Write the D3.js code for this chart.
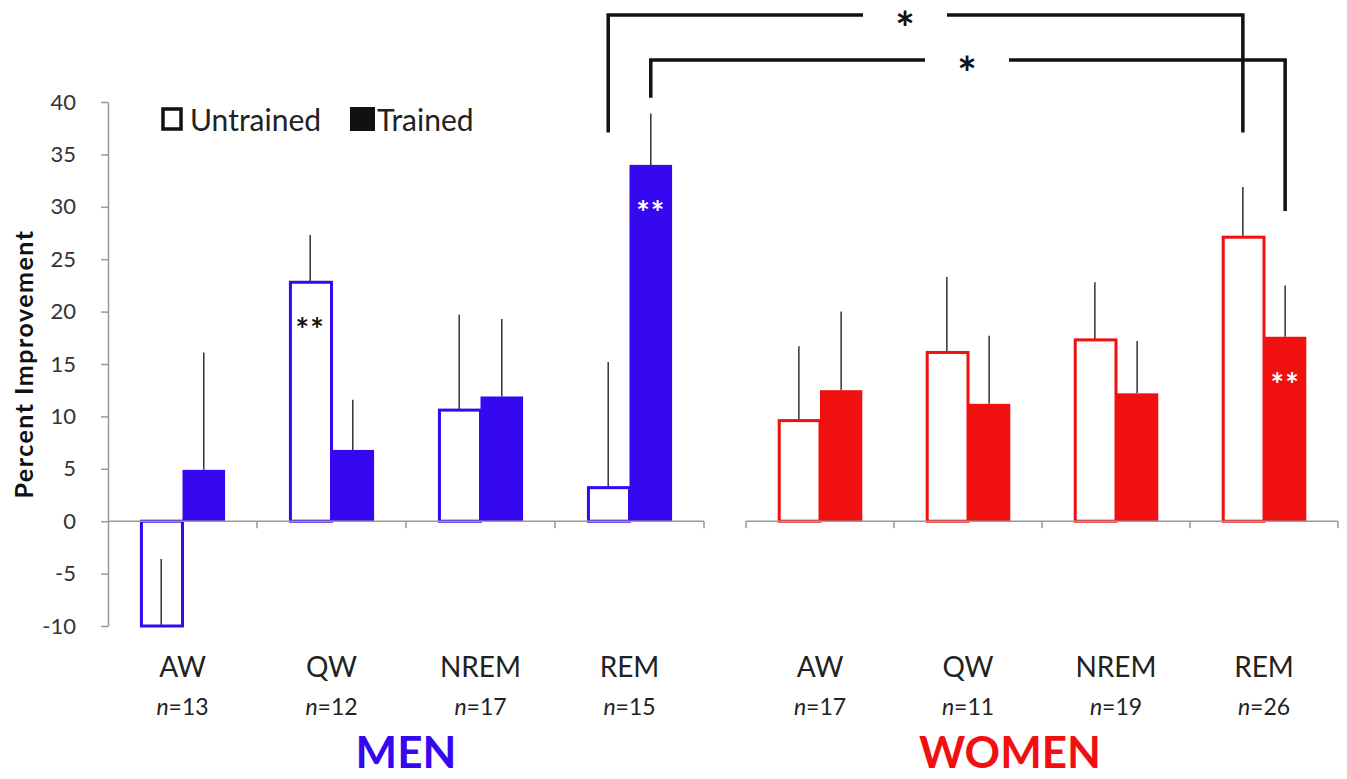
<!doctype html>
<html>
<head>
<meta charset="utf-8">
<title>Percent improvement by sleep state</title>
<script src="https://cdnjs.cloudflare.com/ajax/libs/d3/7.8.5/d3.min.js"></script>
<style>
  body { margin: 0; background: #fff; }
  text { font-family: Lato, 'Open Sans', sans-serif; }
  .axis path, .axis line { stroke: #999; stroke-width: 1.5; }
  .axis text { font-size: 22px; fill: #333; }
</style>
</head>
<body>
<div id="chart"></div>
<script>
var categories = ["AW", "QW", "NREM", "REM"];
var yTicks = [-10, -5, 0, 5, 10, 15, 20, 25, 30, 35, 40];

var menN = [13, 12, 17, 15];
var womenN = [17, 11, 19, 26];

// bar heights and the top of each (one-sided) error bar
var menUntrained = [-10, 22.8, 10.6, 3.2];
var menUntrainedErr = [-3.6, 27.3, 19.7, 15.2];
var menTrained = [4.9, 6.8, 11.9, 34.0];
var menTrainedErr = [16.1, 11.6, 19.3, 38.9];

var womenUntrained = [9.6, 16.1, 17.3, 27.1];
var womenUntrainedErr = [16.7, 23.3, 22.8, 31.9];
var womenTrained = [12.5, 11.2, 12.2, 17.6];
var womenTrainedErr = [20.0, 17.7, 17.2, 22.5];

// stars inside bars: [panel, category, group, color]
var barStars = [["men", "QW", "Untrained", "#111"], ["men", "REM", "Trained", "#fff"], ["women", "REM", "Trained", "#fff"]];

var width = 1347, height = 779;
var blue = "#3508f0", red = "#f01010";

var svg = d3.select("#chart").append("svg").attr("width", width).attr("height", height);

var y = d3.scaleLinear().domain([-10, 40]).range([626, 102]);

var panels = [
  { key: "men", label: "MEN", color: blue, range: [108, 704], labelX: 406, n: menN,
    u: menUntrained, ue: menUntrainedErr, t: menTrained, te: menTrainedErr },
  { key: "women", label: "WOMEN", color: red, range: [746, 1338], labelX: 1010, n: womenN,
    u: womenUntrained, ue: womenUntrainedErr, t: womenTrained, te: womenTrainedErr }
];

panels.forEach(function (p) {
  p.x0 = d3.scaleBand().domain(categories).range(p.range);
  p.x1 = d3.scaleBand().domain(["Untrained", "Trained"]).range([0, p.x0.bandwidth()]).paddingOuter(0.75);
  p.cx = function (c, g) { return p.x0(c) + p.x1(g) + p.x1.bandwidth() / 2; };
});

// y axis (men panel only)
svg.append("g").attr("class", "axis")
  .attr("transform", "translate(108,0)")
  .call(d3.axisLeft(y).tickValues(yTicks).tickFormat(function (d) { return String(d); })
    .tickSize(7).tickPadding(25).tickSizeOuter(0));

svg.append("text")
  .attr("transform", "translate(33,364) rotate(-90)")
  .attr("text-anchor", "middle")
  .style("font-size", "25px").style("font-weight", "bold").style("fill", "#111")
  .style("letter-spacing", "1.5px")
  .text("Percent Improvement");

panels.forEach(function (p) {
  var g = svg.append("g");
  var rows = categories.map(function (c, i) {
    return [
      { c: c, grp: "Untrained", v: p.u[i], e: p.ue[i] },
      { c: c, grp: "Trained", v: p.t[i], e: p.te[i] }
    ];
  }).flat();

  // error bars drawn first, so bars sit over them
  g.selectAll(".err").data(rows).join("line")
    .attr("x1", function (d) { return p.cx(d.c, d.grp); })
    .attr("x2", function (d) { return p.cx(d.c, d.grp); })
    .attr("y1", function (d) { return y(d.v); })
    .attr("y2", function (d) { return y(d.e); })
    .attr("stroke", "#333").attr("stroke-width", 1.5);

  g.selectAll(".bar").data(rows).join("rect")
    .attr("x", function (d) { return p.x0(d.c) + p.x1(d.grp) + (d.grp == "Untrained" ? 1.5 : 0); })
    .attr("y", function (d) { return Math.min(y(d.v), y(0)); })
    .attr("width", function (d) { return p.x1.bandwidth() - (d.grp == "Untrained" ? 1.5 : 0); })
    .attr("height", function (d) { return Math.abs(y(d.v) - y(0)); })
    .attr("fill", function (d) { return d.grp == "Trained" ? p.color : "#fff"; })
    .attr("fill-opacity", function (d) { return d.grp == "Trained" ? 1 : 0; })
    .attr("stroke", p.color)
    .attr("stroke-width", function (d) { return d.grp == "Trained" ? 0 : 3; });

  // x axis line with ticks at category boundaries
  var bounds = categories.map(function (c) { return p.x0(c); }).concat([p.range[1]]);
  var ax = g.append("g").attr("class", "axis");
  ax.append("line")
    .attr("x1", p.range[0]).attr("x2", p.range[1])
    .attr("y1", y(0)).attr("y2", y(0));
  ax.selectAll(".tk").data(p.key == "men" ? bounds.slice(1) : bounds).join("line")
    .attr("x1", function (d) { return d; }).attr("x2", function (d) { return d; })
    .attr("y1", y(0)).attr("y2", y(0) + 7);

  // category labels
  g.selectAll(".cat").data(categories).join("text")
    .attr("x", function (c) { return p.x0(c) + p.x0.bandwidth() / 2; })
    .attr("y", 677)
    .attr("text-anchor", "middle")
    .style("font-size", "28px").style("fill", "#222")
    .text(function (c) { return c; });

  var nt = g.selectAll(".n").data(categories).join("text")
    .attr("x", function (c) { return p.x0(c) + p.x0.bandwidth() / 2; })
    .attr("y", 715)
    .attr("text-anchor", "middle")
    .style("font-size", "23px").style("fill", "#222");
  nt.append("tspan").style("font-style", "italic").text("n");
  nt.append("tspan").text(function (c, i) { return "=" + p.n[i]; });

  g.append("text")
    .attr("x", p.labelX)
    .attr("y", 768)
    .attr("text-anchor", "middle")
    .style("font-size", "44px").style("font-weight", "bold").style("fill", p.color)
    .text(p.label);
});

// stars inside bars
barStars.forEach(function (s) {
  var p = panels.find(function (q) { return q.key == s[0]; });
  var i = categories.indexOf(s[1]);
  var v = s[2] == "Trained" ? p.t[i] : p.u[i];
  svg.append("text")
    .attr("x", p.cx(s[1], s[2]))
    .attr("y", y(v) + 60)
    .attr("text-anchor", "middle")
    .style("font-size", "32px").style("font-weight", "bold").style("fill", s[3])
    .style("letter-spacing", "1px")
    .text("**");
});

// legend
var legend = svg.append("g");
legend.append("rect").attr("x", 163).attr("y", 109).attr("width", 18).attr("height", 20)
  .attr("fill", "none").attr("stroke", "#111").attr("stroke-width", 3.5);
legend.append("text").attr("x", 190).attr("y", 131).style("font-size", "30px").style("fill", "#222").text("Untrained");
legend.append("rect").attr("x", 350).attr("y", 107).attr("width", 25).attr("height", 24).attr("fill", "#111");
legend.append("text").attr("x", 377).attr("y", 131).style("font-size", "30px").style("fill", "#222").text("Trained");

// significance brackets between men and women REM bars
var men = panels[0], women = panels[1];
var brackets = [
  { x1: men.cx("REM", "Untrained"), x2: women.cx("REM", "Untrained"), top: 48.3, left: 37.1, right: 37.1, star: 905 },
  { x1: men.cx("REM", "Trained"), x2: women.cx("REM", "Trained"), top: 44.0, left: 40.4, right: 29.6, star: 967 }
];
brackets.forEach(function (b) {
  var gap = 42;
  var path = d3.path();
  path.moveTo(b.x1, y(b.left));
  path.lineTo(b.x1, y(b.top));
  path.lineTo(b.star - gap, y(b.top));
  path.moveTo(b.star + gap, y(b.top));
  path.lineTo(b.x2, y(b.top));
  path.lineTo(b.x2, y(b.right));
  svg.append("path").attr("d", path.toString())
    .attr("fill", "none").attr("stroke", "#111").attr("stroke-width", 3.5);
  svg.append("text").attr("x", b.star).attr("y", y(b.top) + 30)
    .attr("text-anchor", "middle")
    .style("font-size", "46px").style("font-weight", "bold").style("fill", "#111")
    .text("*");
});
</script>
</body>
</html>
